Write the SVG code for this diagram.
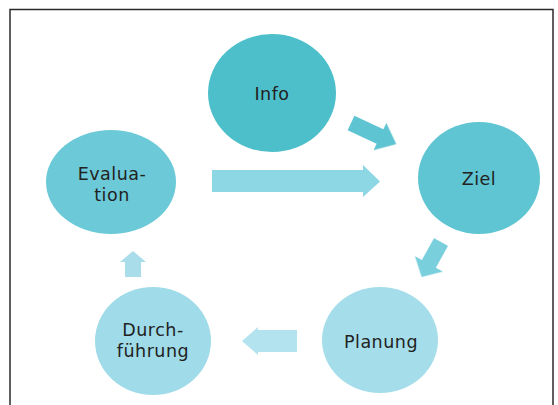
<svg xmlns="http://www.w3.org/2000/svg" width="558" height="405" viewBox="0 0 558 405">
  <defs>
    <filter id="soft" x="-10%" y="-10%" width="120%" height="120%">
      <feGaussianBlur stdDeviation="0.7"/>
    </filter>
    <style>
      .lbl { font-family: "DejaVu Sans", "Liberation Sans", sans-serif; font-size: 17.5px; fill: #222; text-anchor: middle; letter-spacing: 0.5px; }
      .node ellipse { filter: url(#soft); }
      .arr { filter: url(#soft); }
    </style>
  </defs>
  <rect x="0" y="0" width="558" height="405" fill="#ffffff"/>
  <rect x="10" y="9.5" width="543" height="420" fill="none" stroke="#2a2a2a" stroke-width="1.5"/>

  <g id="connectors">
    <polygon class="arr" fill="#5ec4d2" points="0,-8 32,-8 32,-15 50,0 32,15 32,8 0,8" transform="translate(351,123) rotate(25)"/>
    <polygon class="arr" fill="#8dd6e4" points="212,170 363,170 363,165 380,181.5 363,197 363,192 212,192"/>
    <polygon class="arr" fill="#7acfdd" points="0,-8 25,-8 25,-16 40,0 25,16 25,8 0,8" transform="translate(441,242) rotate(119)"/>
    <polygon class="arr" fill="#b3e3ee" points="297,330 258,330 258,327 242,341 258,355 258,352 297,352"/>
    <polygon class="arr" fill="#a9ddea" points="133,251 146,262 141,262 141,277 125,277 125,262 120,262"/>
  </g>

  <g id="info" class="node">
    <ellipse cx="272" cy="93" rx="64" ry="59" fill="#4ebfcb"/>
    <text class="lbl" x="272" y="100">Info</text>
  </g>
  <g id="ziel" class="node">
    <ellipse cx="479" cy="178" rx="61" ry="56" fill="#5ec5d2"/>
    <text class="lbl" x="479" y="185">Ziel</text>
  </g>
  <g id="planung" class="node">
    <ellipse cx="380" cy="340" rx="58" ry="53" fill="#a5deea"/>
    <text class="lbl" x="381" y="348">Planung</text>
  </g>
  <g id="durchfuehrung" class="node">
    <ellipse cx="153" cy="341" rx="58" ry="54" fill="#9fdbe8"/>
    <text class="lbl" x="153" y="336">Durch-</text>
    <text class="lbl" x="153" y="357">führung</text>
  </g>
  <g id="evaluation" class="node">
    <ellipse cx="111" cy="182" rx="65" ry="52" fill="#6ccad8"/>
    <text class="lbl" x="112" y="180">Evalua-</text>
    <text class="lbl" x="112" y="201">tion</text>
  </g>
</svg>
